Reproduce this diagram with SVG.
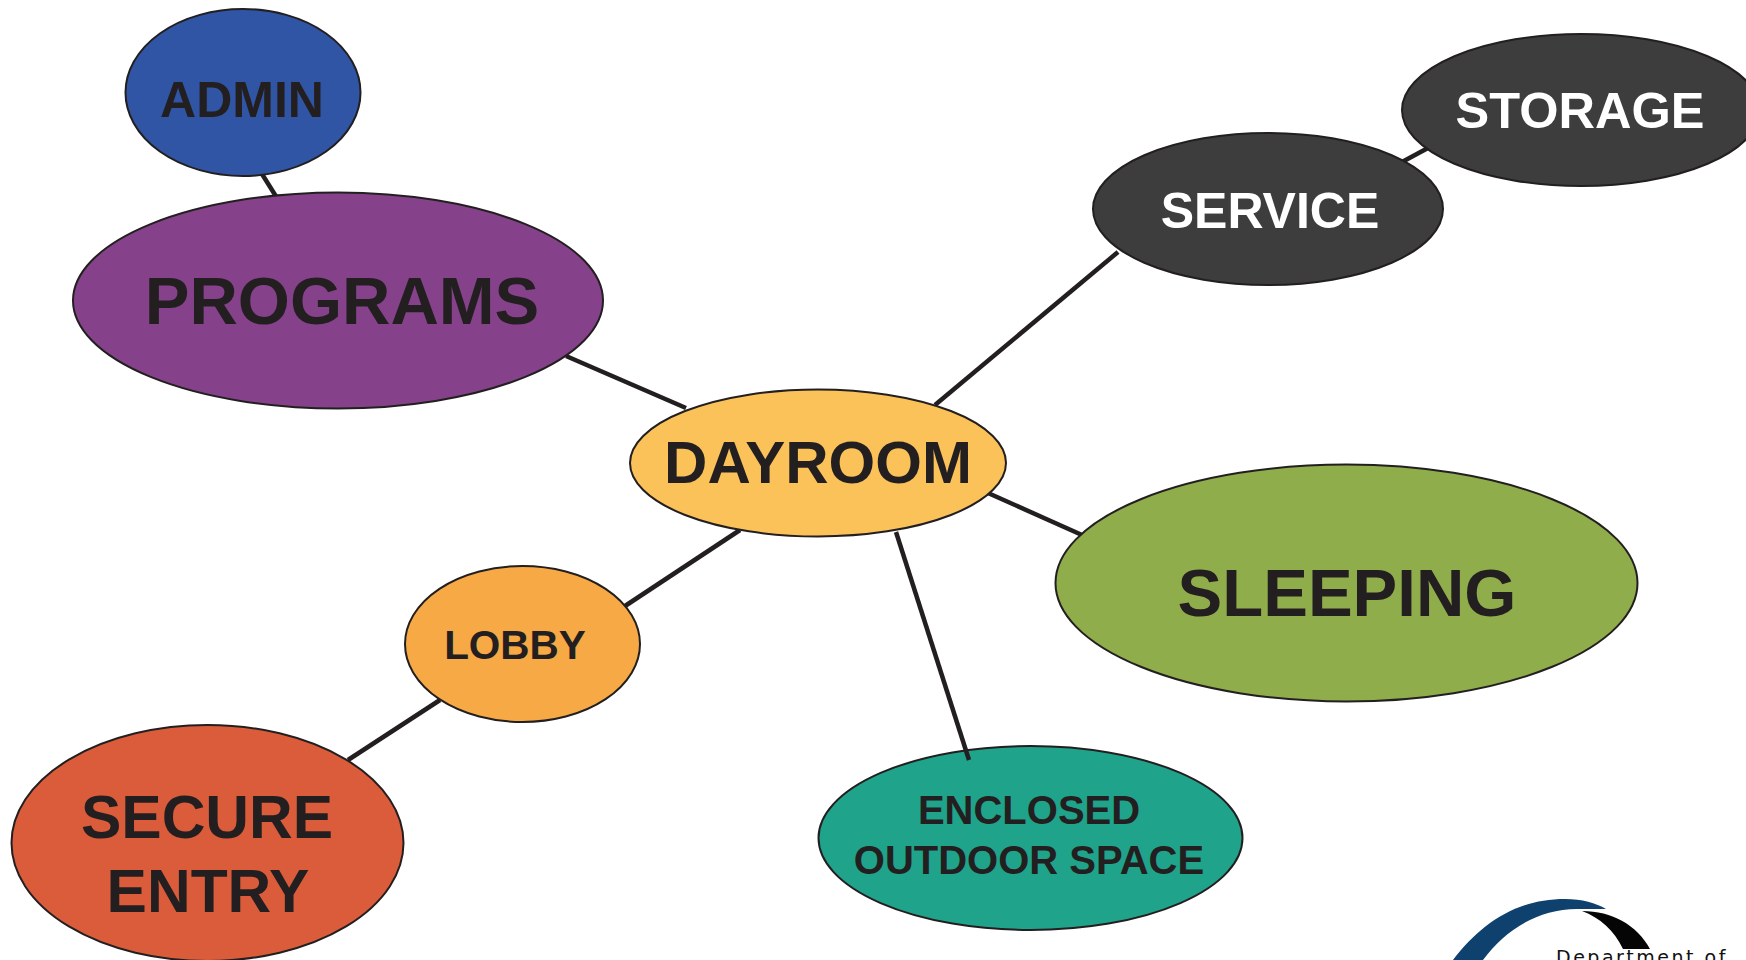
<svg xmlns="http://www.w3.org/2000/svg" width="1746" height="960" viewBox="0 0 1746 960">
<style>
.n{stroke:#231f20;stroke-width:2}
.c{stroke:#231f20;stroke-width:4.5;fill:none}
text{font-family:"Liberation Sans",Arial,sans-serif;font-weight:700;fill:#231f20;text-anchor:middle}
.w{fill:#fff}
.d{font-family:"DejaVu Sans",sans-serif;font-weight:400;letter-spacing:2.5px;text-anchor:start;fill:#111}
</style>
<rect width="1746" height="960" fill="#fff"/>
<g id="enclosed-outdoor-space"><ellipse class="n" cx="1030.5" cy="838" rx="212" ry="92" fill="#1fa38a"/><text x="1029" y="824" font-size="40">ENCLOSED</text><text x="1029" y="874" font-size="40">OUTDOOR SPACE</text></g>
<g id="connectors">
<line class="c" x1="262" y1="174" x2="277" y2="198"/>
<line class="c" x1="566" y1="356" x2="686" y2="408"/>
<line class="c" x1="935" y1="405" x2="1118" y2="252"/>
<line class="c" x1="1402" y1="162" x2="1428" y2="148"/>
<line class="c" x1="988" y1="493" x2="1082" y2="535"/>
<line class="c" x1="740" y1="530" x2="622" y2="608"/>
<line class="c" x1="440" y1="700" x2="348" y2="760"/>
<line class="c" x1="896" y1="532" x2="969" y2="760"/>
</g>
<g id="admin"><ellipse class="n" cx="243" cy="92.5" rx="117.5" ry="83.5" fill="#2f55a4"/><text x="242" y="117" font-size="50">ADMIN</text></g>
<g id="programs"><ellipse class="n" cx="338" cy="300.5" rx="265" ry="108" fill="#85428b"/><text x="342" y="324" font-size="67">PROGRAMS</text></g>
<g id="dayroom"><ellipse class="n" cx="818" cy="463" rx="188" ry="73.5" fill="#fbc25a"/><text x="818" y="483" font-size="60">DAYROOM</text></g>
<g id="service"><ellipse class="n" cx="1268" cy="209" rx="175" ry="76" fill="#3d3d3d"/><text class="w" x="1270" y="228" font-size="50">SERVICE</text></g>
<g id="storage"><ellipse class="n" cx="1581" cy="110" rx="179" ry="76" fill="#3d3d3d"/><text class="w" x="1580" y="128" font-size="50.5">STORAGE</text></g>
<g id="sleeping"><ellipse class="n" cx="1346.5" cy="583" rx="291" ry="118.5" fill="#8fad4a"/><text x="1347" y="616" font-size="67">SLEEPING</text></g>
<g id="lobby"><ellipse class="n" cx="522.5" cy="644" rx="117.5" ry="78" fill="#f6a945"/><text x="515" y="659" font-size="40.5">LOBBY</text></g>
<g id="secure-entry"><ellipse class="n" cx="207.5" cy="843" rx="196" ry="118" fill="#da5c3a"/><text x="207" y="838" font-size="60.5">SECURE</text><text x="208" y="912" font-size="60.5">ENTRY</text></g>
<g id="logo">
<path d="M1453 960C1480 925 1515 899 1565 899C1582 899 1596 903 1606 909L1582 909C1540 907 1505 930 1483 960Z" fill="#0f416f"/>
<path d="M1582 911C1612 911 1637 925 1650 949L1623 949C1614 930 1600 918 1582 911Z" fill="#050505"/>
<text class="d" x="1556" y="964" font-size="19">Department of</text>
</g>
</svg>
